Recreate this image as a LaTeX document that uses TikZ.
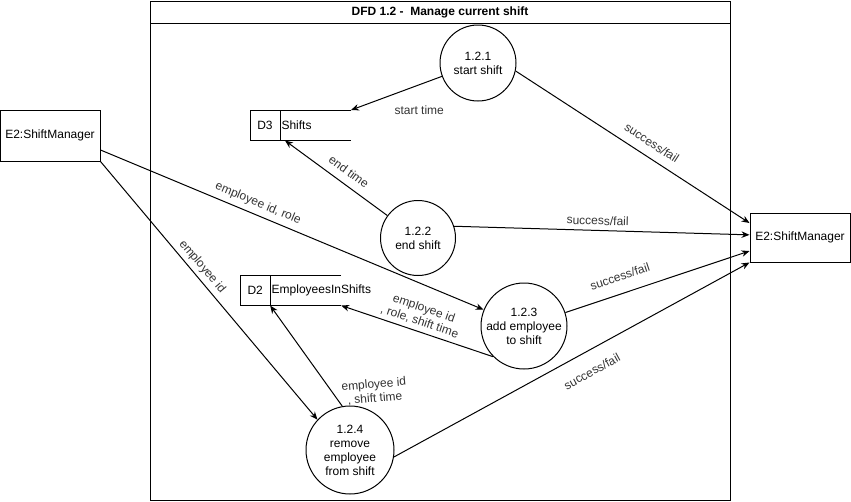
\documentclass[tikz,border=0pt]{standalone}
\usepackage{fontspec}
\setmainfont{Liberation Sans}
\usepackage{tikz}
\usetikzlibrary{shapes,shapes.geometric}
\usetikzlibrary{calc,arrows.meta,positioning}
\tikzset{
  entity/.style={draw, minimum width=100pt, text centered, inner sep=0pt},
  proc/.style={circle, draw, align=center, inner sep=0pt, text centered},
  store/.style={minimum width=100pt, minimum height=29.5pt, inner sep=0pt},
  lbl/.style={text=black!80, align=center, inner sep=2pt},
  flow/.style={-{Stealth[length=8pt,width=6.5pt]}}
}

\begin{document}
\begin{tikzpicture}[x=1pt, y=-1pt, line width=1pt, font=\fontsize{12}{14}\selectfont]
  \useasboundingbox (0,0) rectangle (851,501);
  \node[draw, anchor=north west, minimum width=580pt, minimum height=499pt, inner sep=0pt] (frame) at (150,0.5) {};
  \draw ($(frame.north west)+(0,23)$) -- ($(frame.north east)+(0,23)$);
  \node[font=\fontsize{12}{14}\selectfont\bfseries] (title) at (440,12) {DFD 1.2 -\ \ Manage current shift};

  \node[entity, minimum height=51pt] (e2l) at (50,135.5) {E2:ShiftManager};
  \node[entity, minimum height=49pt] (e2r) at (800,237.5) {E2:ShiftManager};

  \node[proc, minimum size=76pt] (p1) at (478,63) {1.2.1\\start shift};
  \node[proc, minimum size=75pt] (p2) at (418,238) {1.2.2\\end shift};
  \node[proc, minimum size=86pt] (p3) at (524,326) {1.2.3\\add employee\\to shift};
  \node[proc, minimum size=88pt] (p4) at (350,450) {1.2.4\\remove\\employee\\from shift};

  \node[store] (d3) at (300.5,125.3) {};
  \draw (d3.north east) -- (d3.north west) -- (d3.south west) -- (d3.south east);
  \draw ($(d3.north west)+(30,0)$) -- ($(d3.south west)+(30,0)$);
  \node (d3id) at ($(d3.west)+(15,0)$) {D3};
  \node[anchor=west, inner sep=1pt] (d3nm) at ($(d3.west)+(30,0)$) {Shifts};

  \node[store] (d2) at (290.7,290.3) {};
  \draw (d2.north east) -- (d2.north west) -- (d2.south west) -- (d2.south east);
  \draw ($(d2.north west)+(30,0)$) -- ($(d2.south west)+(30,0)$);
  \node (d2id) at ($(d2.west)+(15,0)$) {D2};
  \node[anchor=west, inner sep=1pt] (d2nm) at ($(d2.west)+(30,0)$) {EmployeesInShifts};

  \draw[flow] (p1) -- (d3.north east) node[lbl, pos=.25, below=19pt] {start time};
  \draw[flow] (p1.-12) -- (e2r.164) node[lbl, pos=.55, sloped, above=7pt] {success/fail};
  \draw[flow] (p2) -- ($(d3.south west)+(35,0)$) node[lbl, pos=.45, sloped, above=6pt] {end time};
  \draw[flow] (p2.18) -- (e2r.177) node[lbl, pos=.485, sloped, above=3pt] {success/fail};
  \draw[flow] (e2l.-16) -- (p3.158) node[lbl, pos=.40, sloped, above=3pt] {employee id, role};
  \draw[flow] (p3.225) -- (d2.south east) node[lbl, pos=.505, sloped, above=2pt] {employee id\\, role, shift time};
  \draw[flow] (p3.18) -- (e2r.195) node[lbl, pos=.325, sloped, above=10pt] {success/fail};
  \draw[flow] (e2l.south east) -- (p4.137) node[lbl, pos=.433, sloped, above=2pt] {employee id};
  \draw[flow] (p4.100) -- ($(d2.south west)+(30,0)$) node[lbl, pos=.12, anchor=west, rotate=5, xshift=6pt, yshift=-1pt] {employee id\\, shift time};
  \draw[flow] (p4.-9) -- (e2r.south west) node[lbl, pos=.53, sloped, below=13pt] {success/fail};
\end{tikzpicture}
\end{document}
